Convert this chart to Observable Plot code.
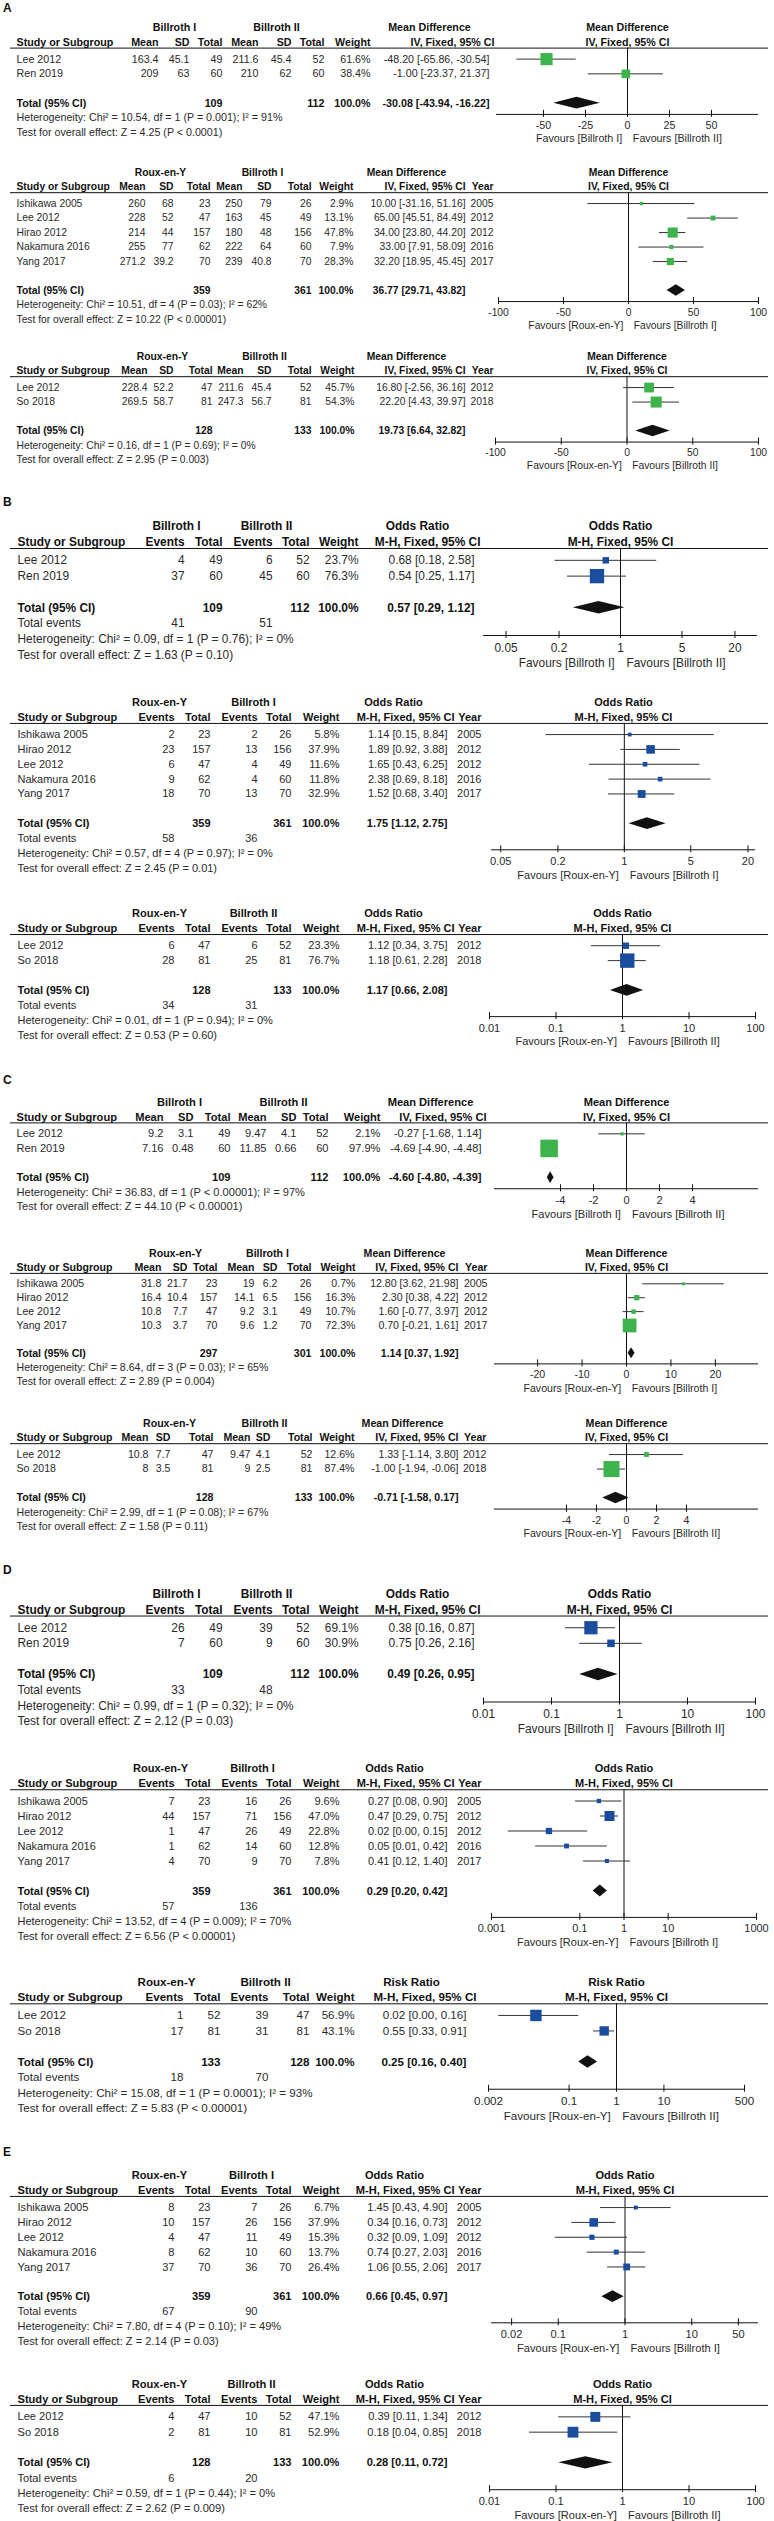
<!DOCTYPE html>
<html><head><meta charset="utf-8">
<script src="https://cdn.jsdelivr.net/npm/d3@7"></script>
<script src="https://cdn.jsdelivr.net/npm/@observablehq/plot@0.6"></script>
<style>
html,body{margin:0;padding:0;background:#fff}
#fig{position:relative;width:774px;height:2521px;overflow:hidden;font-family:"Liberation Sans",Arial,Helvetica,sans-serif;color:#222}
.panel{position:absolute;left:3px;font-weight:bold;font-size:12px;line-height:12px;color:#111}
#fig svg{position:absolute;left:0}
</style></head><body><div id="fig"></div>
<script>
// ---------------- DATA ----------------
// MD rows: [study, mean1, sd1, total1, mean2, sd2, total2, weight%, est, lo, hi, (year)]
// OR rows: [study, events1, total1, events2, total2, weight%, est, lo, hi, (year)]
// MD totals: [total1, total2, est, lo, hi];  OR totals: [total1, total2, est, lo, hi, events1, events2]

const A1_rows = [
  ["Lee 2012", 163.4, 45.1, 49, 211.6, 45.4, 52, 61.6, -48.20, -65.86, -30.54],
  ["Ren 2019", 209, 63, 60, 210, 62, 60, 38.4, -1.00, -23.37, 21.37]
];
const A1_total = [109, 112, -30.08, -43.94, -16.22];
const A1_stats = ["Heterogeneity: Chi² = 10.54, df = 1 (P = 0.001); I² = 91%", "Test for overall effect: Z = 4.25 (P < 0.0001)"];
const A1_ticks = [-50, -25, 0, 25, 50];

const A2_rows = [
  ["Ishikawa 2005", 260, 68, 23, 250, 79, 26, 2.9, 10.00, -31.16, 51.16, 2005],
  ["Lee 2012", 228, 52, 47, 163, 45, 49, 13.1, 65.00, 45.51, 84.49, 2012],
  ["Hirao 2012", 214, 44, 157, 180, 48, 156, 47.8, 34.00, 23.80, 44.20, 2012],
  ["Nakamura 2016", 255, 77, 62, 222, 64, 60, 7.9, 33.00, 7.91, 58.09, 2016],
  ["Yang 2017", 271.2, 39.2, 70, 239, 40.8, 70, 28.3, 32.20, 18.95, 45.45, 2017]
];
const A2_total = [359, 361, 36.77, 29.71, 43.82];
const A2_stats = ["Heterogeneity: Chi² = 10.51, df = 4 (P = 0.03); I² = 62%", "Test for overall effect: Z = 10.22 (P < 0.00001)"];
const A2_ticks = [-100, -50, 0, 50, 100];

const A3_rows = [
  ["Lee 2012", 228.4, 52.2, 47, 211.6, 45.4, 52, 45.7, 16.80, -2.56, 36.16, 2012],
  ["So 2018", 269.5, 58.7, 81, 247.3, 56.7, 81, 54.3, 22.20, 4.43, 39.97, 2018]
];
const A3_total = [128, 133, 19.73, 6.64, 32.82];
const A3_stats = ["Heterogeneity: Chi² = 0.16, df = 1 (P = 0.69); I² = 0%", "Test for overall effect: Z = 2.95 (P = 0.003)"];
const A3_ticks = [-100, -50, 0, 50, 100];

const B1_rows = [
  ["Lee 2012", 4, 49, 6, 52, 23.7, 0.68, 0.18, 2.58],
  ["Ren 2019", 37, 60, 45, 60, 76.3, 0.54, 0.25, 1.17]
];
const B1_total = [109, 112, 0.57, 0.29, 1.12, 41, 51];
const B1_stats = ["Heterogeneity: Chi² = 0.09, df = 1 (P = 0.76); I² = 0%", "Test for overall effect: Z = 1.63 (P = 0.10)"];
const B1_ticks = [0.05, 0.2, 1, 5, 20];

const B2_rows = [
  ["Ishikawa 2005", 2, 23, 2, 26, 5.8, 1.14, 0.15, 8.84, 2005],
  ["Hirao 2012", 23, 157, 13, 156, 37.9, 1.89, 0.92, 3.88, 2012],
  ["Lee 2012", 6, 47, 4, 49, 11.6, 1.65, 0.43, 6.25, 2012],
  ["Nakamura 2016", 9, 62, 4, 60, 11.8, 2.38, 0.69, 8.18, 2016],
  ["Yang 2017", 18, 70, 13, 70, 32.9, 1.52, 0.68, 3.40, 2017]
];
const B2_total = [359, 361, 1.75, 1.12, 2.75, 58, 36];
const B2_stats = ["Heterogeneity: Chi² = 0.57, df = 4 (P = 0.97); I² = 0%", "Test for overall effect: Z = 2.45 (P = 0.01)"];
const B2_ticks = [0.05, 0.2, 1, 5, 20];

const B3_rows = [
  ["Lee 2012", 6, 47, 6, 52, 23.3, 1.12, 0.34, 3.75, 2012],
  ["So 2018", 28, 81, 25, 81, 76.7, 1.18, 0.61, 2.28, 2018]
];
const B3_total = [128, 133, 1.17, 0.66, 2.08, 34, 31];
const B3_stats = ["Heterogeneity: Chi² = 0.01, df = 1 (P = 0.94); I² = 0%", "Test for overall effect: Z = 0.53 (P = 0.60)"];
const B3_ticks = [0.01, 0.1, 1, 10, 100];

const C1_rows = [
  ["Lee 2012", 9.2, 3.1, 49, 9.47, 4.1, 52, 2.1, -0.27, -1.68, 1.14],
  ["Ren 2019", 7.16, 0.48, 60, 11.85, 0.66, 60, 97.9, -4.69, -4.90, -4.48]
];
const C1_total = [109, 112, -4.60, -4.80, -4.39];
const C1_stats = ["Heterogeneity: Chi² = 36.83, df = 1 (P < 0.00001); I² = 97%", "Test for overall effect: Z = 44.10 (P < 0.00001)"];
const C1_ticks = [-4, -2, 0, 2, 4];

const C2_rows = [
  ["Ishikawa 2005", 31.8, 21.7, 23, 19, 6.2, 26, 0.7, 12.80, 3.62, 21.98, 2005],
  ["Hirao 2012", 16.4, 10.4, 157, 14.1, 6.5, 156, 16.3, 2.30, 0.38, 4.22, 2012],
  ["Lee 2012", 10.8, 7.7, 47, 9.2, 3.1, 49, 10.7, 1.60, -0.77, 3.97, 2012],
  ["Yang 2017", 10.3, 3.7, 70, 9.6, 1.2, 70, 72.3, 0.70, -0.21, 1.61, 2017]
];
const C2_total = [297, 301, 1.14, 0.37, 1.92];
const C2_stats = ["Heterogeneity: Chi² = 8.64, df = 3 (P = 0.03); I² = 65%", "Test for overall effect: Z = 2.89 (P = 0.004)"];
const C2_ticks = [-20, -10, 0, 10, 20];

const C3_rows = [
  ["Lee 2012", 10.8, 7.7, 47, 9.47, 4.1, 52, 12.6, 1.33, -1.14, 3.80, 2012],
  ["So 2018", 8, 3.5, 81, 9, 2.5, 81, 87.4, -1.00, -1.94, -0.06, 2018]
];
const C3_total = [128, 133, -0.71, -1.58, 0.17];
const C3_stats = ["Heterogeneity: Chi² = 2.99, df = 1 (P = 0.08); I² = 67%", "Test for overall effect: Z = 1.58 (P = 0.11)"];
const C3_ticks = [-4, -2, 0, 2, 4];

const D1_rows = [
  ["Lee 2012", 26, 49, 39, 52, 69.1, 0.38, 0.16, 0.87],
  ["Ren 2019", 7, 60, 9, 60, 30.9, 0.75, 0.26, 2.16]
];
const D1_total = [109, 112, 0.49, 0.26, 0.95, 33, 48];
const D1_stats = ["Heterogeneity: Chi² = 0.99, df = 1 (P = 0.32); I² = 0%", "Test for overall effect: Z = 2.12 (P = 0.03)"];
const D1_ticks = [0.01, 0.1, 1, 10, 100];

const D2_rows = [
  ["Ishikawa 2005", 7, 23, 16, 26, 9.6, 0.27, 0.08, 0.90, 2005],
  ["Hirao 2012", 44, 157, 71, 156, 47.0, 0.47, 0.29, 0.75, 2012],
  ["Lee 2012", 1, 47, 26, 49, 22.8, 0.02, 0.0024, 0.15, 2012],
  ["Nakamura 2016", 1, 62, 14, 60, 12.8, 0.05, 0.01, 0.42, 2016],
  ["Yang 2017", 4, 70, 9, 70, 7.8, 0.41, 0.12, 1.40, 2017]
];
const D2_total = [359, 361, 0.29, 0.20, 0.42, 57, 136];
const D2_stats = ["Heterogeneity: Chi² = 13.52, df = 4 (P = 0.009); I² = 70%", "Test for overall effect: Z = 6.56 (P < 0.00001)"];
const D2_ticks = [0.001, 0.1, 1, 10, 1000];

const D3_rows = [
  ["Lee 2012", 1, 52, 39, 47, 56.9, 0.02, 0.0033, 0.16],
  ["So 2018", 17, 81, 31, 81, 43.1, 0.55, 0.33, 0.91]
];
const D3_total = [133, 128, 0.25, 0.16, 0.40, 18, 70];
const D3_stats = ["Heterogeneity: Chi² = 15.08, df = 1 (P = 0.0001); I² = 93%", "Test for overall effect: Z = 5.83 (P < 0.00001)"];
const D3_ticks = [0.002, 0.1, 1, 10, 500];

const E1_rows = [
  ["Ishikawa 2005", 8, 23, 7, 26, 6.7, 1.45, 0.43, 4.90, 2005],
  ["Hirao 2012", 10, 157, 26, 156, 37.9, 0.34, 0.16, 0.73, 2012],
  ["Lee 2012", 4, 47, 11, 49, 15.3, 0.32, 0.09, 1.09, 2012],
  ["Nakamura 2016", 8, 62, 10, 60, 13.7, 0.74, 0.27, 2.03, 2016],
  ["Yang 2017", 37, 70, 36, 70, 26.4, 1.06, 0.55, 2.06, 2017]
];
const E1_total = [359, 361, 0.66, 0.45, 0.97, 67, 90];
const E1_stats = ["Heterogeneity: Chi² = 7.80, df = 4 (P = 0.10); I² = 49%", "Test for overall effect: Z = 2.14 (P = 0.03)"];
const E1_ticks = [0.02, 0.1, 1, 10, 50];

const E2_rows = [
  ["Lee 2012", 4, 47, 10, 52, 47.1, 0.39, 0.11, 1.34, 2012],
  ["So 2018", 2, 81, 10, 81, 52.9, 0.18, 0.04, 0.85, 2018]
];
const E2_total = [128, 133, 0.28, 0.11, 0.72, 6, 20];
const E2_stats = ["Heterogeneity: Chi² = 0.59, df = 1 (P = 0.44); I² = 0%", "Test for overall effect: Z = 2.62 (P = 0.009)"];
const E2_ticks = [0.01, 0.1, 1, 10, 100];

const B1g = ["Billroth I", "Billroth II"], RYB1 = ["Roux-en-Y", "Billroth I"], RYB2 = ["Roux-en-Y", "Billroth II"];
const F_B1B2 = ["Favours [Billroth I]", "Favours [Billroth II]"];
const F_RYB1 = ["Favours [Roux-en-Y]", "Favours [Billroth I]"];
const F_RYB2 = ["Favours [Roux-en-Y]", "Favours [Billroth II]"];

const SPECS = [
  {key: "A1", kind: "MD", rows: A1_rows, total: A1_total, stats: A1_stats, ticks: A1_ticks, groups: B1g, favours: F_B1B2},
  {key: "A2", kind: "MD", rows: A2_rows, total: A2_total, stats: A2_stats, ticks: A2_ticks, groups: RYB1, favours: F_RYB1},
  {key: "A3", kind: "MD", rows: A3_rows, total: A3_total, stats: A3_stats, ticks: A3_ticks, groups: RYB2, favours: F_RYB2},
  {key: "B1", kind: "OR", rows: B1_rows, total: B1_total, stats: B1_stats, ticks: B1_ticks, groups: B1g, favours: F_B1B2},
  {key: "B2", kind: "OR", rows: B2_rows, total: B2_total, stats: B2_stats, ticks: B2_ticks, groups: RYB1, favours: F_RYB1},
  {key: "B3", kind: "OR", rows: B3_rows, total: B3_total, stats: B3_stats, ticks: B3_ticks, groups: RYB2, favours: F_RYB2},
  {key: "C1", kind: "MD", rows: C1_rows, total: C1_total, stats: C1_stats, ticks: C1_ticks, groups: B1g, favours: F_B1B2},
  {key: "C2", kind: "MD", rows: C2_rows, total: C2_total, stats: C2_stats, ticks: C2_ticks, groups: RYB1, favours: F_RYB1},
  {key: "C3", kind: "MD", rows: C3_rows, total: C3_total, stats: C3_stats, ticks: C3_ticks, groups: RYB2, favours: F_RYB2},
  {key: "D1", kind: "OR", rows: D1_rows, total: D1_total, stats: D1_stats, ticks: D1_ticks, groups: B1g, favours: F_B1B2},
  {key: "D2", kind: "OR", rows: D2_rows, total: D2_total, stats: D2_stats, ticks: D2_ticks, groups: RYB1, favours: F_RYB1},
  {key: "D3", kind: "RR", rows: D3_rows, total: D3_total, stats: D3_stats, ticks: D3_ticks, groups: RYB2, favours: F_RYB2},
  {key: "E1", kind: "OR", rows: E1_rows, total: E1_total, stats: E1_stats, ticks: E1_ticks, groups: RYB1, favours: F_RYB1},
  {key: "E2", kind: "OR", rows: E2_rows, total: E2_total, stats: E2_stats, ticks: E2_ticks, groups: RYB2, favours: F_RYB2}
];

// ---------------- LAYOUT (pixels, fonts, axis extents) ----------------
const LAYOUT = {
  A1: {top: 59,    rowH: 14.7,  font: 10.7, x: [496, 758], domain: [-78, 78],       study: 16, cols: [158,189,222,258,291,324,370], ciH: 494, ciD: 489, year: null, g: [174, 276], eff: 429},
  A2: {top: 203.5, rowH: 14.5,  font: 10.3, x: [498, 758], domain: [-100, 100],     study: 16, cols: [145,173,210,242,271,311,353], ciH: 465, ciD: 465, year: 493,  g: [160, 262], eff: 406},
  A3: {top: 387,   rowH: 14.5,  font: 10.3, x: [495, 758], domain: [-100, 100],     study: 16, cols: [147,173,212,243,271,311,354], ciH: 465, ciD: 465, year: 493,  g: [162, 264], eff: 406},
  B1: {top: 560,   rowH: 15.8,  font: 11.9, x: [483, 757], domain: [0.0277, 36.1],  study: 17, cols: [184,222,272,309,358],         ciH: 480, ciD: 474, year: null, g: [176, 266], eff: 417},
  B2: {top: 734,   rowH: 14.85, font: 11.0, x: [491, 755], domain: [0.04, 24],      study: 17, cols: [174,210,257,291,339],         ciH: 454, ciD: 447, year: 481,  g: [159, 253], eff: 393},
  B3: {top: 945,   rowH: 14.9,  font: 11.0, x: [489, 755], domain: [0.01, 100],     study: 17, cols: [174,210,257,291,339],         ciH: 454, ciD: 447, year: 481,  g: [159, 253], eff: 393},
  C1: {top: 1133,  rowH: 14.6,  font: 11.1, x: [494, 758], domain: [-8, 8],         study: 16, cols: [163,193,230,266,296,328,380], ciH: 486, ciD: 481, year: null, g: [179, 283], eff: 430},
  C2: {top: 1283,  rowH: 13.9,  font: 10.6, x: [494, 758], domain: [-29.7, 29.7],   study: 16, cols: [161,187,217,254,277,311,355], ciH: 458, ciD: 458, year: 487,  g: [175, 267], eff: 404},
  C3: {top: 1454,  rowH: 14.5,  font: 10.6, x: [494, 758], domain: [-8.8, 8.8],     study: 16, cols: [148,170,213,250,270,312,354], ciH: 458, ciD: 458, year: 486,  g: [169, 264], eff: 402},
  D1: {top: 1627,  rowH: 15.6,  font: 11.9, x: [483, 755], domain: [0.01, 100],     study: 17, cols: [184,222,272,309,358],         ciH: 480, ciD: 474, year: null, g: [176, 266], eff: 417},
  D2: {top: 1800,  rowH: 15.0,  font: 11.0, x: [491, 756], domain: [0.001, 1000],   study: 17, cols: [174,210,257,291,339],         ciH: 454, ciD: 447, year: 481,  g: [160, 252], eff: 394},
  D3: {top: 2015,  rowH: 15.5,  font: 11.6, x: [488, 744], domain: [0.002, 500],    study: 17, cols: [183,220,268,309,354],         ciH: 476, ciD: 466, year: null, g: [166, 265], eff: 411},
  E1: {top: 2207,  rowH: 14.85, font: 11.1, x: [491, 758], domain: [0.01, 100],     study: 17, cols: [174,210,257,291,339],         ciH: 454, ciD: 447, year: 481,  g: [159, 251], eff: 394},
  E2: {top: 2416,  rowH: 15.3,  font: 11.1, x: [489, 755], domain: [0.01, 100],     study: 17, cols: [174,210,257,291,339],         ciH: 454, ciD: 447, year: 481,  g: [159, 251], eff: 394}
};
const PANELS = [["A", 2], ["B", 496], ["C", 1074], ["D", 1564], ["E", 2146]];

const GREEN = "#3db44b", BLUE = "#1b4d9f", INK = "#111", TXT = "#2a2a2a";
const FONT = "'Liberation Sans', Arial, Helvetica, sans-serif";
const ci = (e, l, h) => `${e.toFixed(2)} [${l.toFixed(2)}, ${h.toFixed(2)}]`;

function forest(spec) {
  const L = LAYOUT[spec.key];
  const md = spec.kind === "MD";
  const log = !md;
  const effect = md ? "Mean Difference" : spec.kind === "RR" ? "Risk Ratio" : "Odds Ratio";
  const method = md ? "IV, Fixed, 95% CI" : "M-H, Fixed, 95% CI";
  const nc = md ? 6 : 4;
  const n = spec.rows.length;
  const studies = spec.rows.map((row, i) => ({
    r: i, name: row[0], cells: row.slice(1, 1 + nc), w: row[1 + nc],
    est: row[2 + nc], lo: row[3 + nc], hi: row[4 + nc], year: row[5 + nc]
  }));
  const [tn1, tn2, te, tl, th, ev1, ev2] = spec.total;
  const rh = L.rowH, fs = L.font;
  const H1 = -2.15, H2 = -1.15, RULE = -0.75;
  const totalRow = n + 1;
  const evRow = md ? null : n + 2;
  const hetRow = md ? n + 2 : n + 3;
  const testRow = hetRow + 1;
  const axisRow = (md ? totalRow : evRow) + 0.76;
  const tickRow = axisRow + 1.05 * fs / rh;
  const favRow = axisRow + 2.3 * fs / rh;
  const topRow = -2.9;
  const bottomRow = Math.max(testRow, favRow) + 0.75;
  const height = Math.ceil((bottomRow - topRow) * rh);
  const frameBottom = (axisRow - topRow) * rh;
  const ref = log ? 1 : 0;

  const cols = [];
  const add = (x, anchor, bold, items) => { if (items.length) cols.push({x, anchor, bold, items}); };
  add(L.study, "start", true, [{r: H2, t: "Study or Subgroup"}, {r: totalRow, t: "Total (95% CI)"}]);
  add(L.study, "start", false, [
    ...studies.map(s => ({r: s.r, t: s.name})),
    ...(md ? [] : [{r: evRow, t: "Total events"}]),
    {r: hetRow, t: spec.stats[0]}, {r: testRow, t: spec.stats[1]}
  ]);
  const heads = md ? ["Mean", "SD", "Total", "Mean", "SD", "Total"] : ["Events", "Total", "Events", "Total"];
  heads.forEach((h, j) => {
    const bold = [{r: H2, t: h}];
    const reg = studies.map(s => ({r: s.r, t: String(s.cells[j])}));
    if (h === "Total") bold.push({r: totalRow, t: String(j < nc / 2 ? tn1 : tn2)});
    if (h === "Events") reg.push({r: evRow, t: String(j < nc / 2 ? ev1 : ev2)});
    add(L.cols[j], "end", true, bold);
    add(L.cols[j], "end", false, reg);
  });
  add(L.cols[nc], "end", true, [{r: H2, t: "Weight"}, {r: totalRow, t: "100.0%"}]);
  add(L.cols[nc], "end", false, studies.map(s => ({r: s.r, t: s.w.toFixed(1) + "%"})));
  add(L.ciH, "end", true, [{r: H2, t: method}]);
  add(L.ciD, "end", true, [{r: totalRow, t: ci(te, tl, th)}]);
  add(L.ciD, "end", false, studies.map(s => ({r: s.r, t: ci(s.est, s.lo, s.hi)})));
  if (L.year) {
    add(L.year, "end", true, [{r: H2, t: "Year"}]);
    add(L.year, "end", false, studies.map(s => ({r: s.r, t: String(s.year)})));
  }
  add(L.g[0], "middle", true, [{r: H1, t: spec.groups[0]}]);
  add(L.g[1], "middle", true, [{r: H1, t: spec.groups[1]}]);
  add(L.eff, "middle", true, [{r: H1, t: effect}]);

  const textMarks = cols.map(c => Plot.text(c.items, {
    y: "r", text: "t", frameAnchor: "left", dx: c.x - L.x[0], textAnchor: c.anchor,
    fontSize: fs, fontWeight: c.bold ? "bold" : "normal", fill: c.bold ? INK : TXT
  }));

  const diamond = [
    {y: totalRow - 0.4, a: te, b: te},
    {y: totalRow, a: tl, b: th},
    {y: totalRow + 0.4, a: te, b: te}
  ];

  const svg = Plot.plot({
    width: 774, height,
    marginLeft: L.x[0], marginRight: 774 - L.x[1], marginTop: 0, marginBottom: height - frameBottom,
    x: {type: log ? "log" : "linear", domain: L.domain, label: null, axis: null},
    y: {type: "linear", domain: [topRow, axisRow], range: [0, frameBottom], axis: null},
    r: {type: "linear", domain: [0, 100], range: [1.64, 10.1]},
    style: {background: "none", overflow: "visible", fontFamily: FONT, fontSize: fs + "px", color: TXT},
    marks: [
      ...textMarks,
      Plot.text([{r: H1, t: effect}, {r: H2, t: method}], {y: "r", text: "t", frameAnchor: "middle", fontSize: fs, fontWeight: "bold", fill: INK}),
      Plot.ruleY([RULE], {insetLeft: 10 - L.x[0], insetRight: L.x[1] - 768, stroke: INK}),
      Plot.ruleX([ref], {y1: RULE, y2: axisRow, stroke: INK}),
      Plot.ruleY([axisRow], {stroke: INK}),
      Plot.ruleX(spec.ticks, {x: d => d, y1: axisRow, y2: axisRow, insetTop: -4, insetBottom: -3, stroke: INK}),
      Plot.text(spec.ticks, {x: d => d, y: tickRow, text: d => String(d), fontSize: fs, fill: TXT}),
      Plot.text([spec.favours[0]], {x: ref, y: favRow, text: d => d, textAnchor: "end", dx: -0.5 * fs, fontSize: fs, fill: TXT}),
      Plot.text([spec.favours[1]], {x: ref, y: favRow, text: d => d, textAnchor: "start", dx: 0.5 * fs, fontSize: fs, fill: TXT}),
      Plot.ruleY(studies, {y: "r", x1: "lo", x2: "hi", stroke: "#333"}),
      Plot.dot(studies, {x: "est", y: "r", r: "w", symbol: "square", fill: md ? GREEN : BLUE}),
      Plot.areaX(diamond, {y: "y", x1: "a", x2: "b", fill: INK})
    ]
  });
  svg.style.top = (L.top + topRow * rh) + "px";
  return svg;
}

const fig = document.getElementById("fig");
for (const [letter, top] of PANELS) {
  const d = document.createElement("div");
  d.className = "panel";
  d.style.top = top + "px";
  d.textContent = letter;
  fig.appendChild(d);
}
for (const spec of SPECS) fig.appendChild(forest(spec));
</script></body></html>
